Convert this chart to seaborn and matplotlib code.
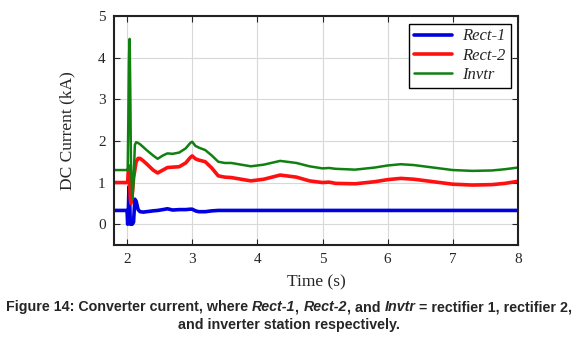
import matplotlib
matplotlib.use("Agg")
import matplotlib.pyplot as plt
import seaborn as sns
import pandas as pd

# time axis (s), shared by all three series
time_s = [1.8, 2.0, 2.01, 2.02, 2.03, 2.04, 2.05, 2.06, 2.08, 2.10, 2.12, 2.14, 2.17,
          2.2, 2.25, 2.3, 2.4, 2.47, 2.55, 2.62, 2.7, 2.8, 2.9, 2.97, 3.0, 3.05, 3.1,
          3.2, 3.3, 3.4, 3.5, 3.6, 3.75, 3.9, 4.1, 4.35, 4.6, 4.8, 5.0, 5.1, 5.2, 5.5,
          5.8, 6.0, 6.2, 6.4, 6.7, 7.0, 7.3, 7.6, 7.8, 8.0]

rect1 = [0.33, 0.33, 0.0, 0.3, 0.9, 0.6, 0.0, 0.0, 0.0, 0.05, 0.6, 0.55, 0.35,
         0.3, 0.29, 0.3, 0.32, 0.33, 0.35, 0.37, 0.34, 0.35, 0.35, 0.36, 0.36, 0.32, 0.3,
         0.3, 0.32, 0.33, 0.33, 0.33, 0.33, 0.33, 0.33, 0.33, 0.33, 0.33, 0.33, 0.33, 0.33, 0.33,
         0.33, 0.33, 0.33, 0.33, 0.33, 0.33, 0.33, 0.33, 0.33, 0.33]

rect2 = [1.0, 1.0, 1.0, 1.3, 1.4, 1.0, 0.6, 0.5, 0.7, 1.1, 1.3, 1.5, 1.58,
         1.58, 1.52, 1.45, 1.3, 1.23, 1.3, 1.36, 1.37, 1.38, 1.47, 1.6, 1.64, 1.57, 1.54,
         1.5, 1.35, 1.16, 1.13, 1.12, 1.08, 1.04, 1.08, 1.18, 1.13, 1.04, 1.0, 1.01, 0.98, 0.97,
         1.02, 1.07, 1.1, 1.08, 1.02, 0.96, 0.94, 0.95, 0.98, 1.03]

invtr = [1.3, 1.3, 1.3, 2.5, 4.0, 4.45, 3.2, 1.5, 0.6, 1.0, 1.9, 1.97, 1.95,
         1.92, 1.85, 1.78, 1.65, 1.57, 1.65, 1.7, 1.69, 1.72, 1.82, 1.95, 1.98, 1.88, 1.84,
         1.78, 1.65, 1.5, 1.47, 1.47, 1.43, 1.39, 1.43, 1.52, 1.47, 1.39, 1.34, 1.35, 1.33, 1.31,
         1.36, 1.41, 1.44, 1.42, 1.36, 1.3, 1.28, 1.29, 1.32, 1.36]

x_ticks = [2, 3, 4, 5, 6, 7, 8]
y_ticks = [0, 1, 2, 3, 4, 5]

series = {"Rect-1": rect1, "Rect-2": rect2, "Invtr": invtr}
colors = {"Rect-1": "#0000e0", "Rect-2": "#ff1010", "Invtr": "#108010"}
widths = {"Rect-1": 2.6, "Rect-2": 2.6, "Invtr": 1.8}

sns.set_style("ticks")
plt.rcParams["font.family"] = ["Liberation Serif", "DejaVu Serif"]

fig = plt.figure(figsize=(5.78, 3.41), dpi=100)
ax = fig.add_axes([114 / 578, 1 - 245 / 341, 404 / 578, 229 / 341])

for name, vals in series.items():
    df = pd.DataFrame({"t": time_s, "v": vals})
    sns.lineplot(data=df, x="t", y="v", ax=ax, color=colors[name],
                 linewidth=widths[name], label=name)

ax.set_xlim(1.8, 8)
ax.set_ylim(-0.5, 5)
ax.set_xticks(x_ticks)
ax.set_yticks(y_ticks)
ax.grid(True, color="#d8d8d8", linewidth=0.8)
ax.tick_params(direction="in", top=True, right=True, labelsize=11, length=4, pad=6)
for sp in ax.spines.values():
    sp.set_linewidth(1.5)
    sp.set_color("#222222")
ax.set_xlabel("Time (s)", fontsize=12.5, labelpad=6)
ax.set_ylabel("DC Current (kA)", fontsize=12.5, labelpad=16)

leg = ax.legend(loc="upper right", frameon=True, fancybox=False,
                prop={"style": "italic", "size": 12}, handlelength=2.3,
                borderaxespad=0.45, labelspacing=0.2, borderpad=0.3,
                handletextpad=0.6)
leg.get_frame().set_edgecolor("black")
leg.get_frame().set_linewidth(1.0)
leg.get_frame().set_alpha(1)

# caption, mixed bold / bold italic
cap_font = dict(family="Liberation Sans", weight="bold", size=10.3)
renderer = fig.canvas.get_renderer()

def caption_line(parts, y):
    texts = []
    total = 0
    for s, italic in parts:
        t = fig.text(0, y, s, style="italic" if italic else "normal", **cap_font)
        w = t.get_window_extent(renderer).width
        texts.append((t, w))
        total += w
    x = (578 - total) / 2
    for t, w in texts:
        t.set_x(x / 578)
        x += w

caption_line([("Figure 14: Converter current, where ", False), ("Rect-1", True),
              (", ", False), ("Rect-2", True), (", and ", False), ("Invtr", True),
              (" = rectifier 1, rectifier 2,", False)], 1 - 311 / 341)
caption_line([("and inverter station respectively.", False)], 1 - 329 / 341)

fig.savefig("out.png", dpi=100)
